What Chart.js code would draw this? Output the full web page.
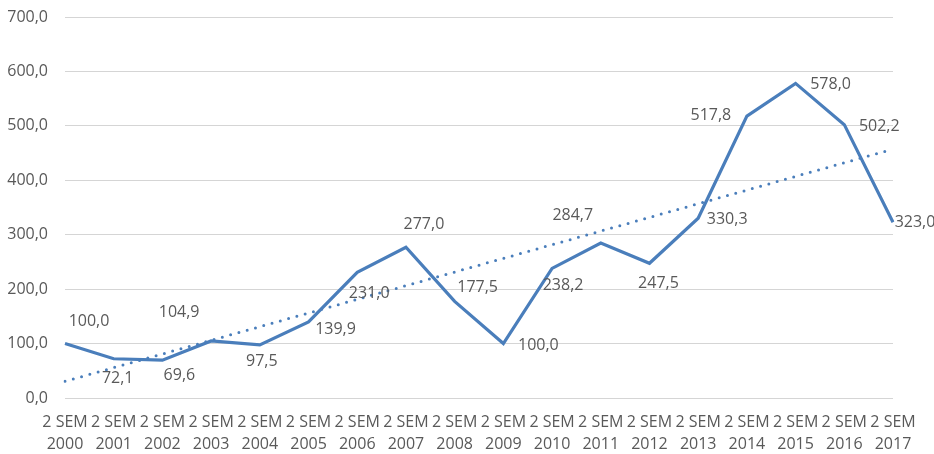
<!DOCTYPE html>
<html>
<head>
<meta charset="utf-8">
<script src="https://cdn.jsdelivr.net/npm/chart.js@4/dist/chart.umd.min.js"></script>
<style>
  html, body { margin: 0; padding: 0; background: #fff; }
  #wrap { width: 934px; height: 454px; }
</style>
</head>
<body>
<div id="wrap"><canvas id="c" width="934" height="454"></canvas></div>
<script>
// Semesters on the category axis (two-line labels)
const years = ['2000','2001','2002','2003','2004','2005','2006','2007','2008',
               '2009','2010','2011','2012','2013','2014','2015','2016','2017'];
const categories = years.map(y => ['2 SEM', y]);

// Index values per semester
const values = [100.0, 72.1, 69.6, 104.9, 97.5, 139.9, 231.0, 277.0, 177.5,
                100.0, 238.2, 284.7, 247.5, 330.3, 517.8, 578.0, 502.2, 323.0];

// Linear trend: value at the first and the last semester
const trendStart = 30.7;
const trendEnd = 457.3;
const trend = values.map((v, i) => i === 0 ? trendStart : (i === values.length - 1 ? trendEnd : null));

// Y axis ticks
const yTicks = [0, 100, 200, 300, 400, 500, 600, 700];

// Placement of each value label relative to its point (label centre, px)
const labelOffsets = [
  [24, -22], [4, 20], [17, 15], [-32, -28], [2, 17], [27, 8], [12, 21], [18, -23], [23, -14],
  [35, 2], [11, 17], [-28, -28], [9, 20], [29, 1], [-36, -1], [35, 1], [35, 2], [22, 0]
];

const fmt = v => v.toFixed(1).replace('.', ',');
const TEXT = '#595959';
const FONT = '"Open Sans", "DejaVu Sans", sans-serif';
const BLUE = '#4A7EBB';

const valueLabels = {
  id: 'valueLabels',
  afterDatasetsDraw(chart) {
    const meta = chart.getDatasetMeta(1);
    const ctx = chart.ctx;
    ctx.save();
    ctx.font = '16px ' + FONT;
    ctx.fillStyle = TEXT;
    ctx.textAlign = 'center';
    ctx.textBaseline = 'middle';
    meta.data.forEach((pt, i) => {
      const [dx, dy] = labelOffsets[i];
      ctx.fillText(fmt(values[i]), pt.x + dx, pt.y + dy);
    });
    ctx.restore();
  }
};

new Chart(document.getElementById('c'), {
  type: 'line',
  data: {
    labels: categories,
    datasets: [
      {
        label: 'Tendência',
        data: trend,
        spanGaps: true,
        borderColor: BLUE,
        borderWidth: 3,
        borderDash: [0, 8.6],
        borderCapStyle: 'round',
        pointRadius: 0,
        fill: false
      },
      {
        label: 'Índice',
        data: values,
        borderColor: BLUE,
        borderWidth: 3.2,
        borderJoinStyle: 'miter',
        pointRadius: 0,
        tension: 0,
        fill: false
      }
    ]
  },
  options: {
    responsive: false,
    animation: false,
    devicePixelRatio: 1,
    layout: { padding: { top: 17, right: 41, left: 0, bottom: 0 } },
    plugins: {
      legend: { display: false },
      tooltip: { enabled: false }
    },
    scales: {
      x: {
        offset: false,
        grid: { display: false, drawTicks: false },
        border: { display: false },
        ticks: {
          color: TEXT,
          font: { family: FONT, size: 16, lineHeight: 1.375 },
          padding: 13,
          maxRotation: 0,
          autoSkip: false
        },
        afterFit(scale) { scale.height = 56; }
      },
      y: {
        min: 0,
        max: 700,
        grid: { color: '#D5D5D5', lineWidth: 1, drawTicks: false },
        border: { display: false },
        afterBuildTicks(scale) { scale.ticks = yTicks.map(v => ({ value: v })); },
        ticks: {
          color: TEXT,
          font: { family: FONT, size: 16 },
          padding: 17,
          callback: v => fmt(v)
        },
        afterFit(scale) {
          scale.width = 65;
          scale.paddingTop = 0;
          scale.paddingBottom = 0;
        }
      }
    }
  },
  plugins: [valueLabels]
});
</script>
</body>
</html>
